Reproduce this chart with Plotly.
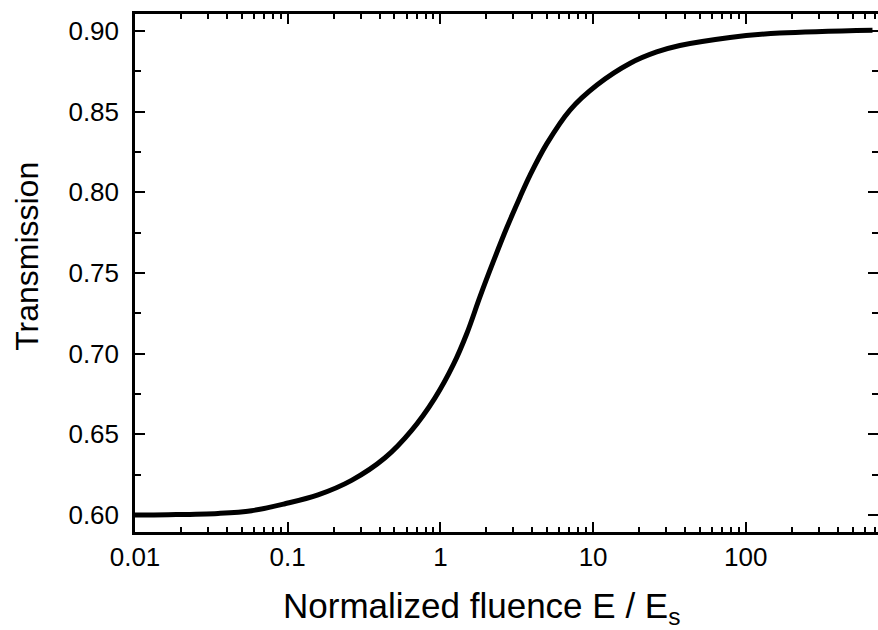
import plotly.graph_objects as go

# Transmission vs normalized fluence
fluence = [0.01, 0.0165, 0.035, 0.058, 0.096, 0.158, 0.262, 0.434, 0.648,
           0.92, 1.22, 1.49, 1.82, 2.22, 2.72, 3.32, 3.86, 4.97, 7.06, 10.6,
           17.5, 26.1, 37, 78.8, 167, 676]
transmission = [0.6000, 0.6002, 0.6010, 0.6027, 0.6070, 0.6125, 0.6215, 0.6355,
                0.6525, 0.6725, 0.6935, 0.7125, 0.7355, 0.7570, 0.7780, 0.7970,
                0.8105, 0.8300, 0.8510, 0.8665, 0.8800, 0.8870, 0.8910, 0.8960,
                0.8987, 0.9005]

x_tickvals = [0.01, 0.1, 1, 10, 100]
x_ticktext = ["0.01", "0.1", "1", "10", "100"]
y_tickvals = [0.60, 0.65, 0.70, 0.75, 0.80, 0.85, 0.90]
y_ticktext = ["0.60", "0.65", "0.70", "0.75", "0.80", "0.85", "0.90"]

FONT = "Liberation Sans, Arial, Helvetica, sans-serif"

fig = go.Figure()
fig.add_trace(go.Scatter(
    x=fluence, y=transmission, mode="lines",
    line=dict(color="black", width=5, shape="spline", smoothing=1.0),
    showlegend=False, hoverinfo="skip",
))

fig.update_layout(
    width=878, height=630,
    margin=dict(l=135, r=0, t=14, b=98),
    paper_bgcolor="white", plot_bgcolor="white",
    font=dict(family=FONT, color="black", size=26),
)

fig.update_xaxes(
    type="log", range=[-2, 2.866],
    tickvals=x_tickvals, ticktext=x_ticktext,
    ticks="inside", ticklen=10, tickwidth=2, tickcolor="black",
    minor=dict(ticks="inside", ticklen=5, tickwidth=1.5, tickcolor="black",
               dtick="D1", showgrid=False),
    showline=True, linecolor="black", linewidth=2.5, mirror="ticks",
    showgrid=False, zeroline=False,
    ticklabelstandoff=0,
    tickfont=dict(size=26),
    automargin=False,
)
fig.update_yaxes(
    range=[0.5895, 0.9105],
    tickvals=y_tickvals, ticktext=y_ticktext,
    ticks="inside", ticklen=10, tickwidth=2, tickcolor="black",
    minor=dict(ticks="inside", ticklen=6, tickwidth=2, tickcolor="black",
               dtick=0.025, tick0=0.6, showgrid=False),
    showline=True, linecolor="black", linewidth=2.5, mirror="ticks",
    showgrid=False, zeroline=False,
    ticklabelstandoff=8,
    tickfont=dict(size=26),
    automargin=False,
)

# axis titles as annotations for exact placement
fig.add_annotation(
    text="Normalized fluence E / E<sub>s</sub>",
    xref="paper", yref="paper", x=0.466, y=-0.146,
    xanchor="center", yanchor="middle", showarrow=False,
    font=dict(size=35, family=FONT, color="black"),
)
fig.add_annotation(
    text="Transmission",
    xref="paper", yref="paper", x=-0.1454, y=0.533,
    xanchor="center", yanchor="middle", textangle=-90, showarrow=False,
    font=dict(size=32, family=FONT, color="black"),
)

fig.write_html("out.html", config={"displayModeBar": False},
               post_script="document.body.style.margin='0';")
